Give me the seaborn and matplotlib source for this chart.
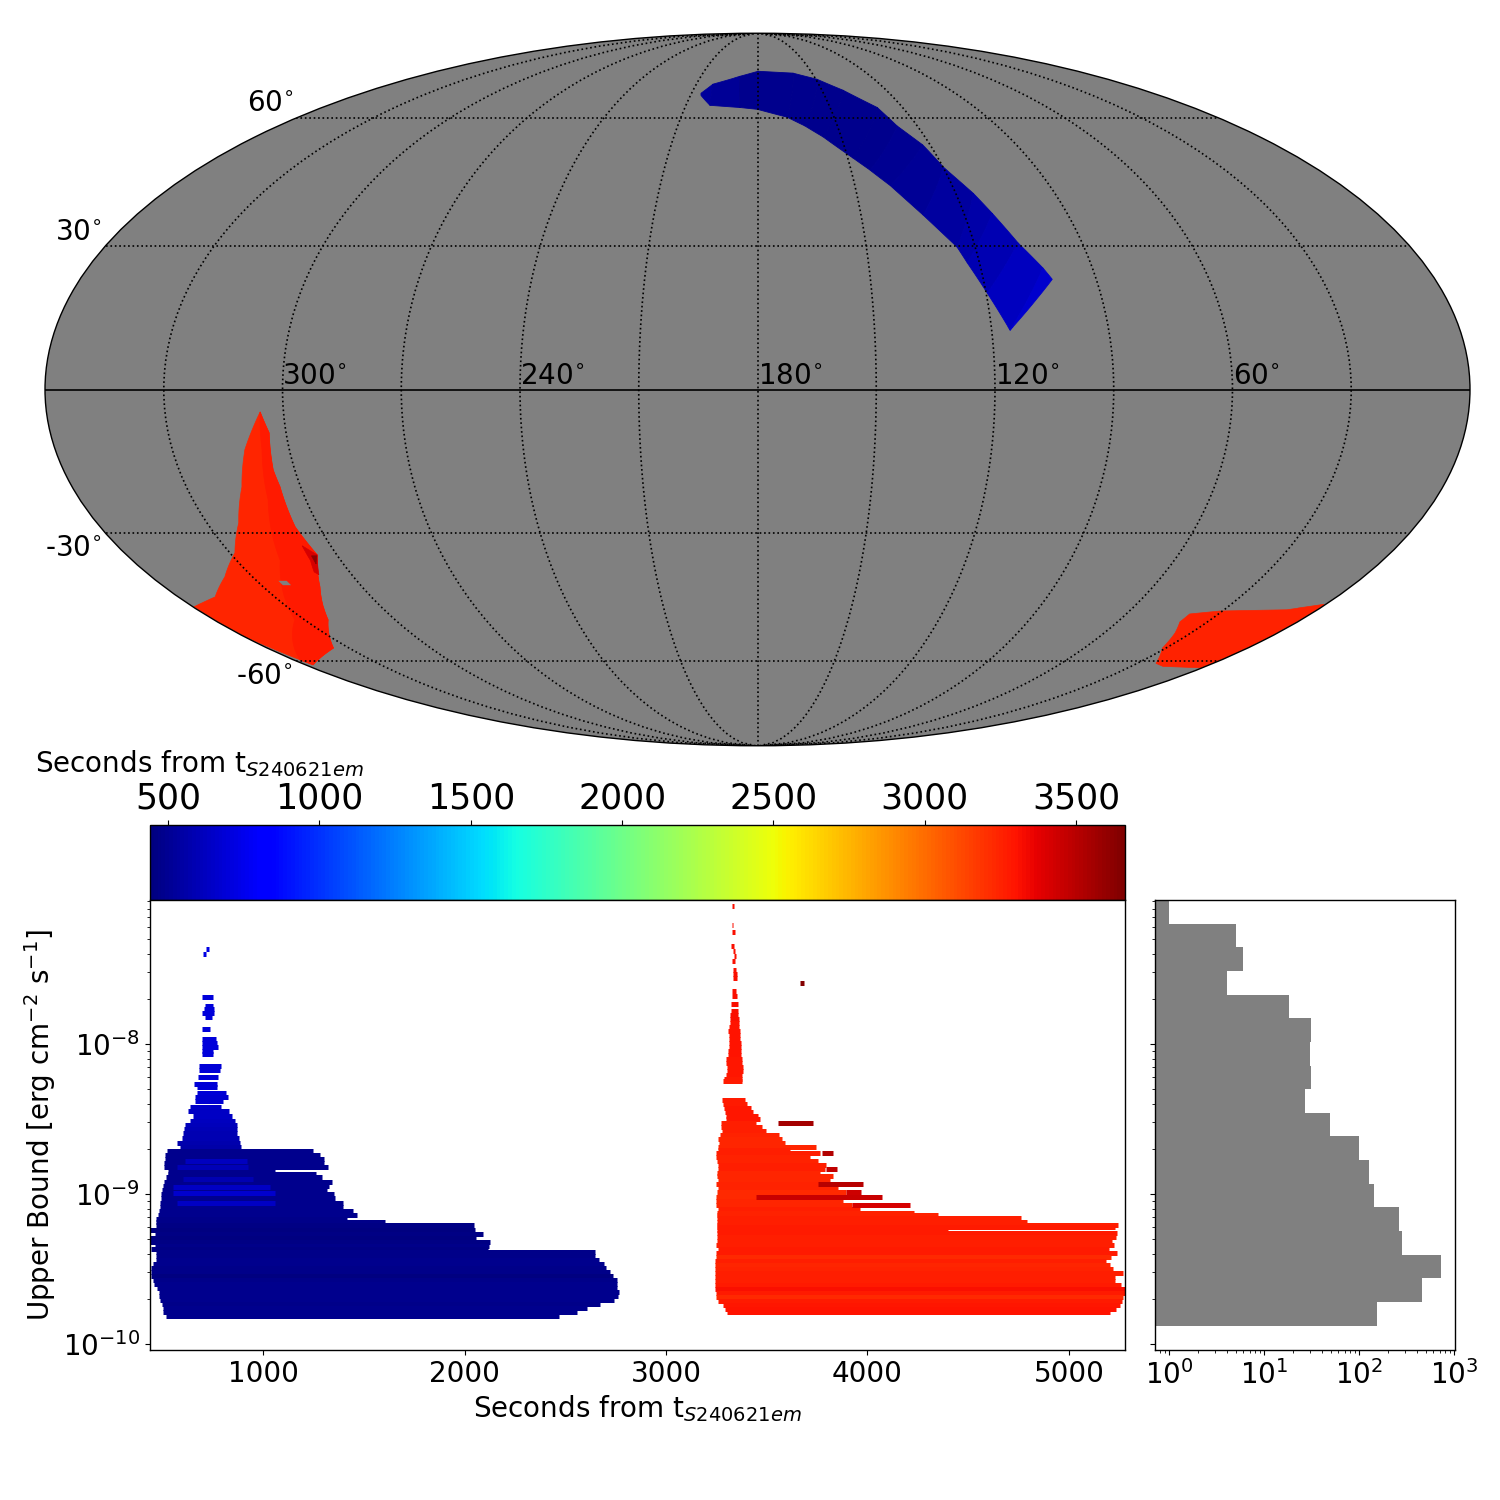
# sky localisation map with upper bounds and time colouring
import numpy as np
import matplotlib
matplotlib.use("Agg")
import matplotlib.pyplot as plt
from matplotlib.cm import ScalarMappable
from matplotlib.colors import Normalize
from matplotlib.ticker import LogLocator, NullFormatter
import seaborn as sns

# colour scale
sec_min = 440
sec_max = 3662
colorbar_ticks = [500, 1000, 1500, 2000, 2500, 3000, 3500]
time_ticks = [1000, 2000, 3000, 4000, 5000]
bound_ticks = [1e-10, 1e-9, 1e-8]
count_ticks = [1, 10, 100, 1000]

# sky map, blue strip: cross sections along the strip (ra, dec in degrees)
strip_ra_a = [205.7, 201.8, 189.3, 179.7, 160.5, 149.4, 140.2, 130.5, 127.6, 122.6, 119.9, 114.7, 111.8, 107.8, 103.3, 101.7]
strip_dec_a = [66.8, 69.5, 71.9, 73.5, 72.9, 71.0, 67.7, 62.8, 57.9, 53.1, 47.7, 41.6, 37.1, 30.6, 25.2, 22.8]
strip_ra_b = [205.3, 199.9, 187.2, 180.0, 168.4, 162.2, 156.5, 148.3, 143.9, 139.1, 132.0, 125.0, 123.3, 119.7, 115.3, 106.9]
strip_dec_b = [66.2, 63.4, 62.8, 62.3, 60.2, 57.9, 55.1, 49.9, 47.0, 43.4, 36.7, 29.7, 26.3, 19.9, 12.2, 18.8]
strip_sec = [520, 510, 490, 480, 480, 480, 480, 490, 500, 510, 530, 560, 590, 620, 660, 680]

# sky map, red region on the left
south_ra = [305.9, 304.3, 305.6, 305.4, 306.6, 305.6, 312.8, 322.2, 335.7, 356.9, 359.5, 359.5, 348.5, 338.2, 328.5, 321.3, 315.4, 311.4, 308.5]
south_dec = [-4.6, -8.9, -16.6, -20.1, -28.6, -34.7, -41.9, -49.6, -56.6, -61.0, -54.0, -46.5, -44.2, -39.6, -34.2, -27.7, -20.1, -12.4, -8.3]
south_sec = 3245
edge_ra = [305.9, 304.3, 305.6, 305.4, 306.6, 305.6, 312.8, 322.2, 335.7, 356.9, 357.5, 333.2, 317.4, 310.0, 307.0]
edge_dec = [-4.6, -8.9, -16.6, -20.1, -28.6, -34.7, -41.9, -49.6, -56.6, -61.0, -59.7, -49.6, -35.9, -22.8, -12.4]
edge_sec = 3275
late_ra = [308.0, 305.6, 309.7, 310.4, 308.7]
late_dec = [-32.7, -34.7, -39.1, -38.5, -35.9]
late_sec = 3420
latest_ra = [307.4, 305.9, 307.9]
latest_dec = [-34.9, -34.9, -36.7]
latest_sec = 3620
hole_ra = [321.0, 323.5, 323.5, 321.0]
hole_dec = [-40.5, -40.5, -41.5, -41.5]

# sky map, red region on the right
west_ra = [22.6, 31.3, 35.5, 39.2, 39.4, 30.9, 9.8, 1.0, 0.5, 0.5, 17.3]
west_dec = [-60.6, -56.6, -52.8, -50.1, -48.2, -47.5, -47.2, -46.0, -46.0, -61.8, -61.4]
west_sec = 3250

# sky map labels
ra_labels = ["300", "240", "180", "120", "60"]
dec_labels = ["60", "30", "-30", "-60"]

# early observations: one row per upper bound
blue_logf = [-7.366, -7.397, -7.689, -7.744, -7.764, -7.795, -7.820, -7.897, -7.964, -7.991, -8.017, -8.044, -8.066,
	-8.146, -8.173, -8.222, -8.266, -8.284, -8.324, -8.351, -8.382, -8.422, -8.449, -8.480, -8.511, -8.542, -8.569,
	-8.595, -8.629, -8.662, -8.689, -8.715, -8.742, -8.769, -8.795, -8.822, -8.851, -8.866, -8.889, -8.917, -8.944,
	-8.973, -8.999, -9.029, -9.057, -9.084, -9.111, -9.137, -9.164, -9.184, -9.206, -9.240, -9.266, -9.295, -9.320,
	-9.346, -9.369, -9.386, -9.413, -9.440, -9.466, -9.493, -9.520, -9.546, -9.573, -9.600, -9.626, -9.653, -9.680,
	-9.706, -9.733, -9.760, -9.786, -9.811]
blue_start = [717, 702, 697, 712, 707, 697, 712, 697, 697, 697, 697, 697, 697,
	682, 682, 677, 658, 673, 673, 663, 663, 638, 628, 654, 638, 613, 608,
	603, 596, 573, 588, 524, 514, 514, 509, 509, 529, 529, 519, 509, 505,
	499, 496, 492, 489, 489, 486, 481, 469, 469, 469, 439, 464, 439, 439,
	464, 443, 469, 469, 469, 456, 443, 443, 443, 456, 459, 472, 486, 486,
	489, 497, 502, 505, 519]
blue_end = [732, 717, 750, 754, 757, 757, 747, 737, 767, 773, 777, 752, 752,
	793, 787, 777, 772, 772, 816, 826, 800, 792, 833, 845, 861, 871, 871,
	871, 879, 886, 891, 1248, 1283, 1303, 1303, 1323, 1060, 1261, 1293, 1341, 1327,
	1318, 1352, 1357, 1397, 1397, 1447, 1466, 1418, 1605, 2047, 2052, 2092, 2057, 2126,
	2121, 2116, 2647, 2647, 2669, 2692, 2702, 2722, 2735, 2755, 2755, 2755, 2766, 2761,
	2742, 2672, 2606, 2556, 2470]
blue_sec = [720, 720, 700, 700, 700, 700, 700, 700, 700, 700, 700, 700, 700,
	690, 690, 690, 680, 680, 680, 670, 670, 650, 640, 630, 620, 610, 600,
	590, 580, 570, 560, 480, 480, 480, 490, 480, 490, 480, 480, 490, 490,
	490, 490, 490, 490, 480, 480, 480, 475, 470, 465, 445, 460, 450, 465,
	470, 460, 475, 475, 480, 480, 475, 470, 440, 475, 480, 485, 480, 490,
	480, 475, 480, 480, 480]

# lighter and darker stripes on top of the early rows
blue_over_logf = [-8.778, -8.822, -8.899, -8.953, -8.992, -9.057]
blue_over_start = [613, 572, 605, 555, 555, 575]
blue_over_end = [919, 927, 952, 1035, 1060, 1060]
blue_over_sec = [620, 600, 590, 640, 660, 640]

# late observations: one row per upper bound
red_logf = [-7.077, -7.206, -7.255, -7.346, -7.380, -7.413, -7.446, -7.506, -7.533, -7.560, -7.646, -7.680, -7.733,
	-7.780, -7.806, -7.833, -7.860, -7.886, -7.913, -7.940, -7.966, -7.993, -8.020, -8.046, -8.073, -8.100, -8.126,
	-8.153, -8.180, -8.206, -8.233, -8.249, -8.373, -8.400, -8.426, -8.453, -8.480, -8.502, -8.524, -8.551, -8.577,
	-8.604, -8.631, -8.657, -8.684, -8.706, -8.726, -8.751, -8.777, -8.809, -8.835, -8.862, -8.877, -8.906, -8.935,
	-8.962, -8.989, -9.017, -9.044, -9.071, -9.097, -9.124, -9.140, -9.162, -9.184, -9.206, -9.222, -9.242, -9.262,
	-9.286, -9.313, -9.340, -9.366, -9.393, -9.420, -9.446, -9.473, -9.500, -9.526, -9.553, -9.580, -9.606, -9.633,
	-9.660, -9.686, -9.713, -9.740, -9.766, -9.789]
red_start = [3327, 3327, 3327, 3322, 3332, 3337, 3327, 3332, 3332, 3332, 3327, 3327, 3322,
	3322, 3317, 3317, 3317, 3313, 3308, 3313, 3313, 3313, 3313, 3308, 3308, 3298, 3298,
	3303, 3303, 3298, 3288, 3283, 3278, 3283, 3288, 3293, 3298, 3298, 3273, 3273, 3278,
	3268, 3258, 3263, 3258, 3258, 3248, 3248, 3253, 3258, 3258, 3253, 3253, 3258, 3248,
	3258, 3253, 3248, 3248, 3248, 3258, 3251, 3251, 3251, 3251, 3251, 3251, 3251, 3251,
	3251, 3251, 3248, 3260, 3248, 3248, 3243, 3243, 3243, 3243, 3243, 3243, 3243, 3243,
	3248, 3248, 3260, 3284, 3293, 3301]
red_end = [3337, 3332, 3342, 3337, 3342, 3347, 3342, 3347, 3352, 3352, 3347, 3352, 3357,
	3357, 3357, 3362, 3362, 3362, 3367, 3367, 3367, 3372, 3372, 3372, 3372, 3377, 3377,
	3382, 3382, 3377, 3377, 3375, 3392, 3404, 3422, 3433, 3458, 3466, 3446, 3475, 3496,
	3562, 3574, 3590, 3744, 3615, 3764, 3714, 3754, 3794, 3789, 3764, 3829, 3814, 3858,
	3855, 3893, 3946, 3880, 3925, 3963, 4230, 4350, 4761, 4791, 5243, 5228, 4400, 5238,
	5233, 5213, 5223, 5198, 5238, 5208, 5186, 5203, 5218, 5268, 5228, 5228, 5258, 5278,
	5278, 5269, 5263, 5253, 5233, 5203]
red_sec = [3320, 3320, 3320, 3320, 3320, 3320, 3320, 3320, 3320, 3320, 3320, 3320, 3320,
	3310, 3310, 3310, 3300, 3300, 3300, 3300, 3300, 3300, 3300, 3300, 3300, 3290, 3290,
	3290, 3290, 3290, 3280, 3280, 3280, 3280, 3290, 3290, 3290, 3290, 3265, 3265, 3260,
	3250, 3240, 3240, 3240, 3260, 3260, 3250, 3250, 3260, 3260, 3240, 3240, 3240, 3250,
	3250, 3230, 3225, 3240, 3240, 3260, 3250, 3250, 3270, 3270, 3270, 3275, 3275, 3280,
	3270, 3270, 3270, 3280, 3280, 3225, 3260, 3240, 3250, 3260, 3270, 3270, 3280, 3310,
	3280, 3225, 3275, 3290, 3300, 3300]

# late rows that reach furthest, drawn last
dark_logf = [-7.591, -8.524, -8.726, -8.835, -8.935, -8.989, -9.017, -9.071]
dark_start = [3665, 3556, 3774, 3794, 3756, 3893, 3446, 3925]
dark_end = [3685, 3729, 3829, 3848, 3977, 3968, 4072, 4211]
dark_sec = [3640, 3560, 3517, 3480, 3500, 3440, 3450, 3420]

# histogram of upper bounds, lowest bin first
hist_lo = -9.878
hist_hi = -7.04
hist_counts = [154, 461, 727, 282, 262, 144, 127, 100, 49, 27, 31, 30, 31, 18, 4, 6, 5, 1]

seconds_label = "Seconds from t$_{S240621em}$"


sns.set_theme(style="ticks", rc={
	"text.color": "black", "axes.labelcolor": "black", "axes.edgecolor": "black",
	"xtick.color": "black", "ytick.color": "black", "axes.linewidth": 1.0,
	"xtick.major.size": 3.5, "ytick.major.size": 3.5, "xtick.minor.size": 2, "ytick.minor.size": 2,
	"xtick.major.width": 0.8, "ytick.major.width": 0.8, "xtick.minor.width": 0.6, "ytick.minor.width": 0.6,
	"axes.spines.top": True, "axes.spines.right": True,
	"xtick.top": False, "ytick.right": False,
})
plt.rcParams["font.family"] = ["DejaVu Sans"]
plt.rcParams["mathtext.fontset"] = "dejavusans"

# seaborn will not hand out jet, so it comes from matplotlib
cmap = matplotlib.colormaps["jet"]
norm = Normalize(sec_min, sec_max)

fig = plt.figure(figsize=(15, 15), dpi=100)


def rect(left, top, right, bottom):
	# pixel box of the 1500 px canvas to figure fraction
	return [left / 1500, 1 - bottom / 1500, (right - left) / 1500, (bottom - top) / 1500]


def label_at(x, y, text, size=20):
	fig.text(x / 1500, 1 - y / 1500, text, fontsize=size, ha="left", va="center")


def sky(ra, dec):
	# ra runs right to left around 180
	return np.radians(180 - np.asarray(ra)), np.radians(np.asarray(dec))


# sky map
ax_sky = fig.add_axes(rect(45, 33, 1470, 746), projection="mollweide", facecolor="grey")
ax_sky.xaxis.set_ticklabels([])
ax_sky.yaxis.set_ticklabels([])
ax_sky.grid(False)

for i in range(len(strip_sec) - 1):
	lon, lat = sky([strip_ra_a[i], strip_ra_a[i + 1], strip_ra_b[i + 1], strip_ra_b[i]],
		[strip_dec_a[i], strip_dec_a[i + 1], strip_dec_b[i + 1], strip_dec_b[i]])
	ax_sky.fill(lon, lat, color=cmap(norm(strip_sec[i])), lw=0.6)

for ra, dec, sec in [(south_ra, south_dec, south_sec), (edge_ra, edge_dec, edge_sec),
		(late_ra, late_dec, late_sec), (latest_ra, latest_dec, latest_sec), (west_ra, west_dec, west_sec)]:
	lon, lat = sky(ra, dec)
	ax_sky.fill(lon, lat, color=cmap(norm(sec)), lw=0.5)
lon, lat = sky(hole_ra, hole_dec)
ax_sky.fill(lon, lat, color="grey", lw=0)

# graticule every 30 degrees
for dec in [-60, -30, 30, 60]:
	ax_sky.plot([-np.pi, np.pi], np.radians([dec, dec]), color="black", ls=":", lw=1.2, zorder=5)
for ra in range(30, 360, 30):
	lon = np.radians(180 - ra)
	ax_sky.plot([lon, lon], np.radians([-89.9, 89.9]), color="black", ls=":", lw=1.2, zorder=5)
ax_sky.plot([-np.pi, np.pi], [0, 0], color="black", lw=1.2, zorder=5)

for x, text in zip([282, 520, 758, 995, 1233], ra_labels):
	label_at(x, 376, text + r"$^{\circ}$")
for x, y, text in zip([247, 55, 45, 236], [103, 232, 548, 676], dec_labels):
	label_at(x, y, text + r"$^{\circ}$")

# colour bar
ax_bar = fig.add_axes(rect(150, 825, 1125, 900))
bar = fig.colorbar(ScalarMappable(norm=norm, cmap=cmap), cax=ax_bar, orientation="horizontal", ticklocation="top")
bar.set_ticks(colorbar_ticks)
ax_bar.tick_params(labelsize=25)
label_at(35, 764, seconds_label)

# upper bounds against time
ax_main = fig.add_axes(rect(150, 900, 1125, 1350))
row_width = 3.6
ax_main.hlines(10.0 ** np.array(blue_logf), blue_start, blue_end, colors=cmap(norm(blue_sec)), lw=row_width)
ax_main.hlines(10.0 ** np.array(blue_over_logf), blue_over_start, blue_over_end, colors=cmap(norm(blue_over_sec)), lw=row_width)
ax_main.hlines(10.0 ** np.array(red_logf), red_start, red_end, colors=cmap(norm(red_sec)), lw=row_width)
ax_main.hlines(10.0 ** np.array(dark_logf), dark_start, dark_end, colors=cmap(norm(dark_sec)), lw=row_width)
ax_main.set_yscale("log")
ax_main.set_xlim(439, 5278)
ax_main.set_ylim(10 ** -10.04, 10 ** -7.04)
ax_main.set_xticks(time_ticks)
ax_main.set_yticks(bound_ticks)
ax_main.tick_params(labelsize=20)
ax_main.set_xlabel(seconds_label, fontsize=20)
ax_main.set_ylabel(r"Upper Bound [erg cm$^{-2}$ s$^{-1}$]", fontsize=20)

# histogram
ax_hist = fig.add_axes(rect(1155, 900, 1455, 1350))
hist_edges = np.linspace(hist_lo, hist_hi, len(hist_counts) + 1)
hist_mid = (hist_edges[:-1] + hist_edges[1:]) / 2
sns.histplot(y=10.0 ** hist_mid, weights=hist_counts, bins=list(hist_edges), log_scale=(False, True),
	color="grey", alpha=1, linewidth=0, ax=ax_hist)
ax_hist.set_xscale("log")
ax_hist.set_xticks(count_ticks)
ax_hist.xaxis.set_minor_locator(LogLocator(base=10, subs=range(2, 10), numticks=20))
ax_hist.xaxis.set_minor_formatter(NullFormatter())
ax_hist.set_xlim(0.706, 1016)
ax_hist.set_yticks(bound_ticks)
ax_hist.set_ylim(10 ** -10.04, 10 ** -7.04)
ax_hist.set_xlabel("")
ax_hist.set_ylabel("")
ax_hist.tick_params(axis="x", labelsize=20)
ax_hist.tick_params(axis="y", which="both", labelleft=False)

fig.savefig("out.png", dpi=100)
